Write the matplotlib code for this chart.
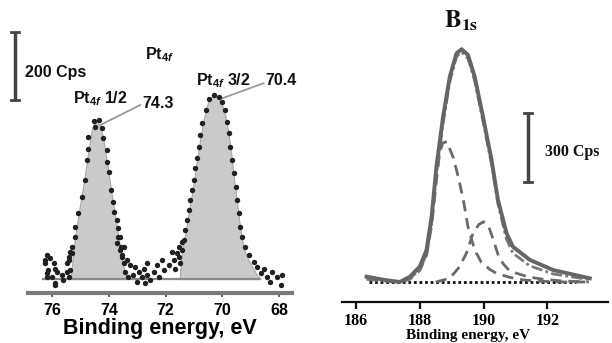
import matplotlib
matplotlib.use("Agg")
import matplotlib.pyplot as plt

plt.rcParams['mathtext.fontset'] = 'custom'
plt.rcParams['mathtext.bf'] = 'Liberation Sans:bold'
plt.rcParams['mathtext.it'] = 'Liberation Sans:italic:bold'
plt.rcParams['mathtext.rm'] = 'Liberation Sans:bold'

# ---------------- Left panel: Pt 4f (eV, cps) ----------------
pt_dots_x = [76.19, 76.07, 76.25, 75.95, 76.13, 75.83, 75.66, 75.48, 76.01, 75.60, 75.89, 75.42,
             76.19, 76.25, 76.19, 75.89, 75.89, 75.36, 75.42, 75.30,
             74.54, 74.36, 74.48, 74.24, 74.72, 74.19, 74.74, 74.07, 74.77, 74.07, 73.99, 74.83,
             73.92, 74.95, 73.87, 75.09, 73.80, 75.19, 73.71, 75.21, 73.68, 75.30, 73.60, 75.36,
             73.56, 75.42, 73.52, 75.48, 73.45, 73.42, 73.33,
             73.66, 73.71, 73.60, 73.48, 73.54, 73.36, 73.24, 73.07, 72.95, 72.77, 72.65, 72.83,
             73.01, 72.65, 72.54, 72.42, 72.30, 72.24, 72.07, 72.12, 71.89, 71.77, 71.71, 71.59,
             71.54, 71.65, 71.48, 71.42, 71.30, 71.24, 72.71, 73.13,
             70.30, 70.12, 70.48, 70.00, 70.59, 70.71, 70.77, 70.83, 70.89, 70.95, 71.01, 71.06,
             71.12, 71.18, 71.36, 71.42, 71.54,
             69.89, 69.83, 69.77, 69.71, 69.65, 69.59, 69.53, 69.47, 69.42, 69.36, 69.30, 69.18,
             69.06, 68.89, 68.77, 68.53, 68.41, 68.24, 68.06, 67.88, 67.94, 68.30, 68.65]
pt_dots_y = [71, 61, 46, 46, 26, 21, 12, 21, 7, -3, -13, 7,
             7, 56, 17, 31, -18, 26, 56, 76,
             466, 468, 448, 443, 418, 414, 384, 379, 350, 345, 316, 291,
             262, 242, 227, 193, 198, 154, 174, 124, 149, 95, 124, 80,
             95, 66, 71, 46, 46, 21, 7,
             124, 105, 85, 95, 66, 56, 41, 36, 21, 31, 46, 7,
             -8, 12, -3, 21, 41, 7, 26, 56, 41, 80, 56, 76,
             95, 31, 46, 110, 144, 174, -13, 12,
             541, 536, 531, 521, 497, 458, 424, 389, 355, 326, 291, 262,
             232, 203, 115, 85, 66,
             497, 463, 429, 389, 350, 311, 271, 232, 193, 154, 124, 95,
             71, 51, 36, 31, 7, 21, 7, 12, -18, -8, 17]

fit1_x = [75.35, 75.25, 75.20, 75.05, 74.90, 74.75, 74.60, 74.50, 74.40, 74.30, 74.20, 74.05,
          73.90, 73.75, 73.60, 73.45, 73.35]
fit1_y = [0, 80, 120, 200, 275, 360, 440, 462, 462, 448, 415, 335, 250, 170, 90, 25, 0]

fit2_x = [71.50, 71.45, 71.40, 71.30, 71.20, 71.10, 71.00, 70.90, 70.80, 70.70, 70.60, 70.50,
          70.40, 70.30, 70.20, 70.10, 70.00, 69.90, 69.80, 69.70, 69.60, 69.50, 69.40, 69.30,
          69.20, 69.10, 69.00, 68.90, 68.80, 68.70, 68.65]
fit2_y = [0, 60, 95, 135, 185, 235, 285, 345, 400, 450, 490, 520, 535, 540, 537, 528, 510, 485,
          440, 380, 305, 240, 170, 115, 80, 60, 45, 30, 15, 5, 0]

pt_ticks = [76, 74, 72, 70, 68]

# ---------------- Right panel: B 1s (eV, cps) ----------------
env_x = [186.33, 186.90, 187.37, 187.69, 188.00, 188.21, 188.37, 188.52, 188.73, 188.94, 189.15,
         189.31, 189.51, 189.72, 189.98, 190.25, 190.45, 190.72, 190.92, 191.45, 192.18, 193.33]
env_y = [23, 9, 0, 23, 67, 139, 284, 501, 719, 893, 994, 1012, 987, 893, 719, 530, 357, 212,
         153, 96, 52, 16]

fit_x = env_x
fit_y = [18, 6, 0, 15, 55, 120, 255, 470, 690, 870, 980, 1000, 972, 875, 700, 510, 340, 185,
         125, 70, 35, 10]

c1_x = [186.33, 186.90, 187.37, 187.69, 188.00, 188.21, 188.37, 188.52, 188.62, 188.72, 188.85,
        189.05, 189.20, 189.36, 189.51, 189.72, 189.93, 190.19, 190.40, 190.82, 191.24, 191.80,
        192.50, 193.30]
c1_y = [12, 4, 0, 12, 50, 115, 245, 440, 560, 605, 610, 540, 460, 360, 240, 139, 85, 55, 38,
        20, 9, 3, 0, 0]

c2_x = [188.50, 188.94, 189.25, 189.46, 189.67, 189.85, 190.00, 190.15, 190.30, 190.45, 190.61,
        190.80, 191.03, 191.40, 191.86, 192.50, 193.30]
c2_y = [0, 16, 67, 125, 212, 250, 262, 245, 185, 120, 80, 50, 38, 22, 12, 4, 0]

base_x = [186.40, 192.90]
base_y = [0, 0]

b_ticks = [186, 188, 190, 192]

# ---------------- Figure ----------------
fig = plt.figure(figsize=(6.12, 3.43), dpi=100)

# Left axes
ax1 = fig.add_axes([28 / 612, 1 - 293 / 343, 264 / 612, 273 / 343])
ax1.set_xlim(76.85, 67.54)
ax1.set_ylim(-41, 762)
ax1.fill_between(fit1_x, 0, fit1_y, color='#cacaca', edgecolor='#a8a8a8', linewidth=0.8, zorder=1)
ax1.fill_between(fit2_x, 0, fit2_y, color='#cacaca', edgecolor='#a8a8a8', linewidth=0.8, zorder=1)
ax1.plot([76.32, 68.72], [0, 0], color='#8a8a8a', lw=1.6, zorder=2)
ax1.scatter(pt_dots_x, pt_dots_y, s=15, color='#202020', zorder=3, linewidths=0)
for s in ['left', 'right', 'top']:
    ax1.spines[s].set_visible(False)
ax1.spines['bottom'].set_color('#7a7a7a')
ax1.spines['bottom'].set_linewidth(3)
ax1.set_yticks([])
ax1.set_xticks(pt_ticks)
ax1.set_xticklabels([str(t) for t in pt_ticks], fontfamily='Liberation Sans',
                    fontweight='bold', fontsize=11.5)
ax1.tick_params(axis='x', length=3, width=1.2, color='#444444', pad=4)
ax1.set_xlabel('Binding energy, eV', fontfamily='Liberation Sans', fontweight='bold',
               fontsize=15.5, labelpad=0)
ax1.patch.set_alpha(0)

# scale bar
ax1.plot([77.31, 77.31], [526, 726], color='#444444', lw=2.5, clip_on=False, solid_capstyle='butt')
ax1.plot([77.17, 77.45], [726, 726], color='#444444', lw=2, clip_on=False)
ax1.plot([77.17, 77.45], [526, 526], color='#444444', lw=2, clip_on=False)
tkw = dict(fontfamily='Liberation Sans', fontweight='bold', fontsize=11.5, va='center',
           ha='left', color='#111111')
ax1.text(76.95, 609, '200 Cps', **tkw)
ax1.text(72.71, 659, r'Pt$_{\mathit{4f}}$', **tkw)
ax1.text(75.26, 532, r'Pt$_{\mathit{4f}}$ 1/2', **tkw)
ax1.text(72.82, 515, '74.3', **tkw)
ax1.text(70.91, 585, r'Pt$_{\mathit{4f}}$ 3/2', **tkw)
ax1.text(68.47, 585, '70.4', **tkw)
ax1.plot([74.30, 72.89], [453, 512], color='#999999', lw=1.3)
ax1.plot([69.99, 68.54], [532, 576], color='#999999', lw=1.3, clip_on=False)

# Right axes
ax2 = fig.add_axes([342 / 612, 1 - 302 / 343, 266 / 612, 262 / 343])
ax2.set_xlim(185.56, 193.9)
ax2.set_ylim(-87, 1052)
ax2.plot(base_x, base_y, color='#111111', lw=2, linestyle=(0, (1, 1)), zorder=1)
ax2.plot(c2_x, c2_y, color='#6a6a6a', lw=2, linestyle=(0, (4, 2.5)), zorder=2)
ax2.plot(c1_x, c1_y, color='#6a6a6a', lw=2, linestyle=(0, (4, 2.5)), zorder=2)
ax2.plot(fit_x, fit_y, color='#7a7a7a', lw=2, linestyle=(0, (4, 1.2, 1, 1.2)), zorder=3)
ax2.plot(env_x, env_y, color='#656565', lw=2.8, zorder=4)
for s in ['left', 'right', 'top']:
    ax2.spines[s].set_visible(False)
ax2.spines['bottom'].set_color('#111111')
ax2.spines['bottom'].set_linewidth(1.6)
ax2.set_yticks([])
ax2.set_xticks(b_ticks)
ax2.set_xticklabels([str(t) for t in b_ticks], fontfamily='Liberation Serif',
                    fontweight='bold', fontsize=11.5)
ax2.tick_params(axis='x', length=5, width=1.6, color='#111111', pad=3)
ax2.set_xlabel('Binding energy, eV', fontfamily='Liberation Serif', fontweight='bold',
               fontsize=11)
ax2.xaxis.set_label_coords((468 - 342) / 266, -27 / 262)
ax2.patch.set_alpha(0)

ax2.plot([191.39, 191.39], [435, 735], color='#444444', lw=2.5, solid_capstyle='butt')
ax2.plot([191.27, 191.51], [735, 735], color='#444444', lw=2)
ax2.plot([191.27, 191.51], [435, 435], color='#444444', lw=2)
ax2.text(191.92, 565, '300 Cps', fontfamily='Liberation Serif', fontweight='bold',
         fontsize=11.5, va='center', ha='left', color='#111111')
ax2.text(189.3, 1135, r'$\mathbf{B_{1s}}$', math_fontfamily='stix', fontsize=18,
         ha='center', va='center', color='#111111', clip_on=False)

fig.savefig('out.png', dpi=100)
